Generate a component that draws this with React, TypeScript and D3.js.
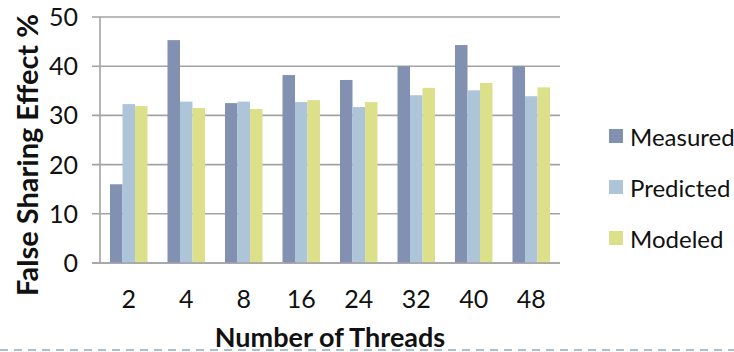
import React from "react";
import * as d3 from "d3";

// Thread counts on the x axis
const threadCounts = ["2", "4", "8", "16", "24", "32", "40", "48"];
// False sharing effect (%) per thread count
const measured = [16, 45.3, 32.5, 38.2, 37.2, 40, 44.3, 40];
const predicted = [32.3, 32.8, 32.8, 32.7, 31.7, 34.1, 35.1, 33.9];
const modeled = [31.9, 31.5, 31.3, 33.1, 32.7, 35.6, 36.6, 35.7];
const seriesNames = ["Measured", "Predicted", "Modeled"];
const seriesColors = ["#8290b1", "#aec5d9", "#dce08b"];
const yTicks = [0, 10, 20, 30, 40, 50];

const W = 734;
const H = 352;
const plot = { left: 100, right: 560, top: 17, bottom: 263 };
const FONT = "Lato, 'Open Sans', sans-serif";

export default function App() {
  const series = [measured, predicted, modeled];
  const x = d3
    .scaleBand<string>()
    .domain(threadCounts)
    .range([plot.left, plot.right])
    .paddingInner(0.348)
    .paddingOuter(0.174);
  const inner = d3
    .scaleBand<string>()
    .domain(seriesNames)
    .range([0, x.bandwidth()]);
  const y = d3.scaleLinear().domain([0, 50]).range([plot.bottom, plot.top]);

  return (
    <svg
      width={W}
      height={H}
      style={{ position: "absolute", left: 0, top: 0, background: "#fff" }}
    >
      {/* horizontal gridlines */}
      {yTicks.map((t) => (
        <line
          key={t}
          x1={plot.left - 8}
          x2={plot.right}
          y1={y(t)}
          y2={y(t)}
          stroke="#a3a3a3"
          strokeWidth={1.6}
        />
      ))}
      {/* value axis line */}
      <line
        x1={plot.left}
        x2={plot.left}
        y1={y(50)}
        y2={y(0)}
        stroke="#a3a3a3"
        strokeWidth={1.6}
      />
      {/* bars */}
      {threadCounts.map((c, i) => (
        <g key={c} transform={`translate(${x(c)},0)`}>
          {series.map((vals, s) => (
            <rect
              key={s}
              x={inner(seriesNames[s])}
              y={y(vals[i])}
              width={inner.bandwidth()}
              height={y(0) - y(vals[i])}
              fill={seriesColors[s]}
            />
          ))}
        </g>
      ))}
      {/* baseline redrawn over bars */}
      <line
        x1={plot.left - 8}
        x2={plot.right}
        y1={y(0)}
        y2={y(0)}
        stroke="#a3a3a3"
        strokeWidth={1.6}
      />
      {/* y tick labels */}
      {yTicks.map((t) => (
        <text
          key={t}
          x={78}
          y={y(t) + 9}
          textAnchor="end"
          fontFamily={FONT}
          fontSize={25}
          fill="#111"
        >
          {t}
        </text>
      ))}
      {/* x tick labels */}
      {threadCounts.map((c) => (
        <text
          key={c}
          x={(x(c) as number) + x.bandwidth() / 2}
          y={308}
          textAnchor="middle"
          fontFamily={FONT}
          fontSize={25}
          fill="#111"
        >
          {c}
        </text>
      ))}
      {/* axis titles */}
      <text
        transform={`translate(38,${(plot.top + plot.bottom) / 2 + 15}) rotate(-90)`}
        textAnchor="middle"
        fontFamily={FONT}
        fontWeight="bold"
        fontSize={29}
        fill="#111"
      >
        False Sharing Effect %
      </text>
      <text
        x={330}
        y={347}
        textAnchor="middle"
        fontFamily={FONT}
        fontWeight="bold"
        fontSize={27}
        fill="#111"
      >
        Number of Threads
      </text>
      {/* legend */}
      {seriesNames.map((n, s) => (
        <g key={n} transform={`translate(609,${129 + s * 51})`}>
          <rect width={14} height={14} fill={seriesColors[s]} />
          <text
            x={21}
            y={17}
            fontFamily={FONT}
            fontSize={24}
            fill="#111"
          >
            {n}
          </text>
        </g>
      ))}
      {/* dashed rule along the bottom edge */}
      <line
        x1={0}
        x2={W}
        y1={350}
        y2={350}
        stroke="#a9c0d3"
        strokeWidth={2}
        strokeDasharray="8 6"
      />
    </svg>
  );
}
